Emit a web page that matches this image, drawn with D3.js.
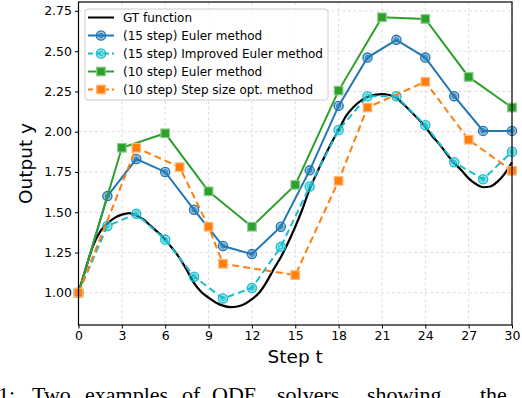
<!DOCTYPE html>
<html><head><meta charset="utf-8">
<script src="https://cdn.jsdelivr.net/npm/d3@7"></script>
<style>
body{margin:0;background:#fff}
svg{display:block}
text{font-family:"DejaVu Sans",sans-serif}
</style>
</head><body>
<svg id="chart" width="522" height="398"></svg>
<script>
// ---- data ----
const gtT = [0,0.5,1,1.5,2,2.5,3,3.5,4,4.5,5,5.5,6,6.5,7,7.5,8,8.5,9,9.5,10,10.5,11,11.5,12,12.5,13,13.5,14,14.5,15,15.5,16,16.5,17,17.5,18,18.5,19,19.5,20,20.5,21,21.5,22,22.5,23,23.5,24,24.5,25,25.5,26,26.5,27,27.5,28,28.5,29,29.5,30];
const gtY = [1.00,1.15,1.29,1.38,1.43,1.465,1.485,1.495,1.48,1.455,1.415,1.375,1.33,1.275,1.215,1.14,1.06,1.005,0.97,0.94,0.92,0.911,0.915,0.93,0.96,1.00,1.065,1.145,1.22,1.31,1.41,1.52,1.645,1.745,1.84,1.93,2.01,2.095,2.15,2.19,2.215,2.228,2.233,2.228,2.21,2.17,2.125,2.08,2.03,1.97,1.92,1.86,1.805,1.76,1.71,1.675,1.655,1.66,1.69,1.74,1.81];
const euler15T = [0,2,4,6,8,10,12,14,16,18,20,22,24,26,28,30];
const euler15Y = [1.00,1.60,1.83,1.75,1.515,1.29,1.24,1.41,1.76,2.16,2.46,2.57,2.46,2.22,2.005,2.005];
const impEuler15T = [0,2,4,6,8,10,12,14,16,18,20,22,24,26,28,30];
const impEuler15Y = [1.00,1.415,1.49,1.33,1.10,0.965,1.03,1.285,1.66,2.01,2.22,2.22,2.04,1.81,1.705,1.875];
const euler10T = [0,3,6,9,12,15,18,21,24,27,30];
const euler10Y = [1.00,1.90,1.99,1.63,1.41,1.67,2.255,2.71,2.70,2.34,2.15];
const opt10T = [0,4,7,9,10,15,18,20,24,27,30];
const opt10Y = [1.00,1.90,1.78,1.41,1.18,1.11,1.695,2.15,2.31,1.95,1.757];
const xTicks = [0,3,6,9,12,15,18,21,24,27,30];
const yTicks = [1.00,1.25,1.50,1.75,2.00,2.25,2.50,2.75];
const legendLabels = ["GT function","(15 step) Euler method","(15 step) Improved Euler method","(10 step) Euler method","(10 step) Step size opt. method"];
const captionWords = ["1:","Two","examples","of","ODE","solvers","showing","the"];
const captionX = [-2,32,85,182,212,277,367,480];

// ---- drawing ----
const svg = d3.select("#chart");
const L = 78.5, R = 512, T = 2, B = 325;
const x = d3.scaleLinear().domain([0,30]).range([L,R]);
const y = d3.scaleLinear().domain([0.80,2.805]).range([B,T]);

// grid
const grid = svg.append("g");
grid.selectAll("line.gx").data(xTicks).enter().append("line")
  .attr("x1",d=>x(d)).attr("x2",d=>x(d)).attr("y1",T).attr("y2",B)
  .attr("stroke","#d4d4d4").attr("stroke-width",0.8).attr("stroke-dasharray","3,2.5");
grid.selectAll("line.gy").data(yTicks).enter().append("line")
  .attr("x1",L).attr("x2",R).attr("y1",d=>y(d)).attr("y2",d=>y(d))
  .attr("stroke","#d4d4d4").attr("stroke-width",0.8).attr("stroke-dasharray","3,2.5");

// axes
const xAxis = d3.axisBottom(x).tickValues(xTicks).tickFormat(d3.format("d")).tickSize(3.5).tickPadding(3);
const yAxis = d3.axisLeft(y).tickValues(yTicks).tickFormat(d3.format(".2f")).tickSize(3.5).tickPadding(3);
const gx = svg.append("g").attr("transform",`translate(0,${B})`).call(xAxis);
const gy = svg.append("g").attr("transform",`translate(${L},0)`).call(yAxis);
[gx,gy].forEach(g=>{
  g.select(".domain").remove();
  g.selectAll(".tick line").attr("stroke","#000").attr("stroke-width",1);
  g.selectAll(".tick text").attr("fill","#000").style("font-size","12.5px").style("font-family","DejaVu Sans");
});

// axis labels
svg.append("text").attr("x",(L+R)/2).attr("y",363).attr("text-anchor","middle")
  .style("font-size","18.5px").text("Step t");
svg.append("text").attr("transform",`translate(32,${(T+B)/2}) rotate(-90)`).attr("text-anchor","middle")
  .style("font-size","18.5px").text("Output y");

// series
const lineGen = d3.line().x(d=>x(d[0])).y(d=>y(d[1]));
const zip = (a,b)=>a.map((v,i)=>[v,b[i]]);

const series = [
  {t:euler15T, v:euler15Y, color:"#1f77b4", dash:null, marker:"circle"},
  {t:impEuler15T, v:impEuler15Y, color:"#17becf", dash:"7,4", marker:"circle"},
  {t:euler10T, v:euler10Y, color:"#2ca02c", dash:null, marker:"square"},
  {t:opt10T, v:opt10Y, color:"#ff7f0e", dash:"7,4", marker:"square"}
];

// GT
svg.append("path").datum(zip(gtT,gtY))
  .attr("d", d3.line().x(d=>x(d[0])).y(d=>y(d[1])).curve(d3.curveMonotoneX))
  .attr("fill","none").attr("stroke","#000").attr("stroke-width",2.2);

function drawMarker(g, kind, color, cx, cy, s){
  if(kind==="circle"){
    g.append("circle").attr("cx",cx).attr("cy",cy).attr("r",4.6*s)
      .attr("fill",color).attr("fill-opacity",0.45).attr("stroke",color).attr("stroke-width",1.3);
    g.append("circle").attr("cx",cx).attr("cy",cy).attr("r",2.1*s)
      .attr("fill","none").attr("stroke",color).attr("stroke-width",1);
  } else {
    const h = 4.3*s;
    g.append("rect").attr("x",cx-h).attr("y",cy-h).attr("width",2*h).attr("height",2*h)
      .attr("fill",color).attr("stroke",d3.interpolateRgb(color,"#fff")(0.45)).attr("stroke-width",1.2);
    g.append("rect").attr("x",cx-h+2).attr("y",cy-h+2).attr("width",2*h-4).attr("height",2*h-4)
      .attr("fill",color).attr("stroke","none");
  }
}

series.forEach(s=>{
  const pts = zip(s.t,s.v);
  svg.append("path").datum(pts).attr("d",lineGen)
    .attr("fill","none").attr("stroke",s.color).attr("stroke-width",2)
    .attr("stroke-dasharray",s.dash);
  const mg = svg.append("g");
  pts.forEach(p=>drawMarker(mg,s.marker,s.color,x(p[0]),y(p[1]),1));
});

// frame
svg.append("rect").attr("x",L).attr("y",T).attr("width",R-L).attr("height",B-T)
  .attr("fill","none").attr("stroke","#000").attr("stroke-width",1.2);

// legend
const lg = svg.append("g");
lg.append("rect").attr("x",85).attr("y",9).attr("width",243).attr("height",91).attr("rx",3)
  .attr("fill","#fff").attr("fill-opacity",0.85).attr("stroke","#cccccc").attr("stroke-width",1);
const legendStyles = [{color:"#000",dash:null,marker:null}].concat(series);
legendLabels.forEach((lab,i)=>{
  const yy = 17.5 + i*18;
  const st = legendStyles[i];
  lg.append("line").attr("x1",88).attr("x2",114).attr("y1",yy).attr("y2",yy)
    .attr("stroke",st.color).attr("stroke-width",2).attr("stroke-dasharray",st.dash?"5,3":null);
  if(st.marker) drawMarker(lg, st.marker, st.color, 101, yy, 1);
  lg.append("text").attr("x",123).attr("y",yy+4.3).style("font-size","12px").text(lab);
});

// caption (cut off by the bottom edge of the page, as in the reference)
const cap = svg.append("text").attr("y",401.5).style("font-family","'Liberation Serif',serif").style("font-size","22px");
captionWords.forEach((w,i)=>cap.append("tspan").attr("x",captionX[i]).text(w));
</script>
</body></html>
